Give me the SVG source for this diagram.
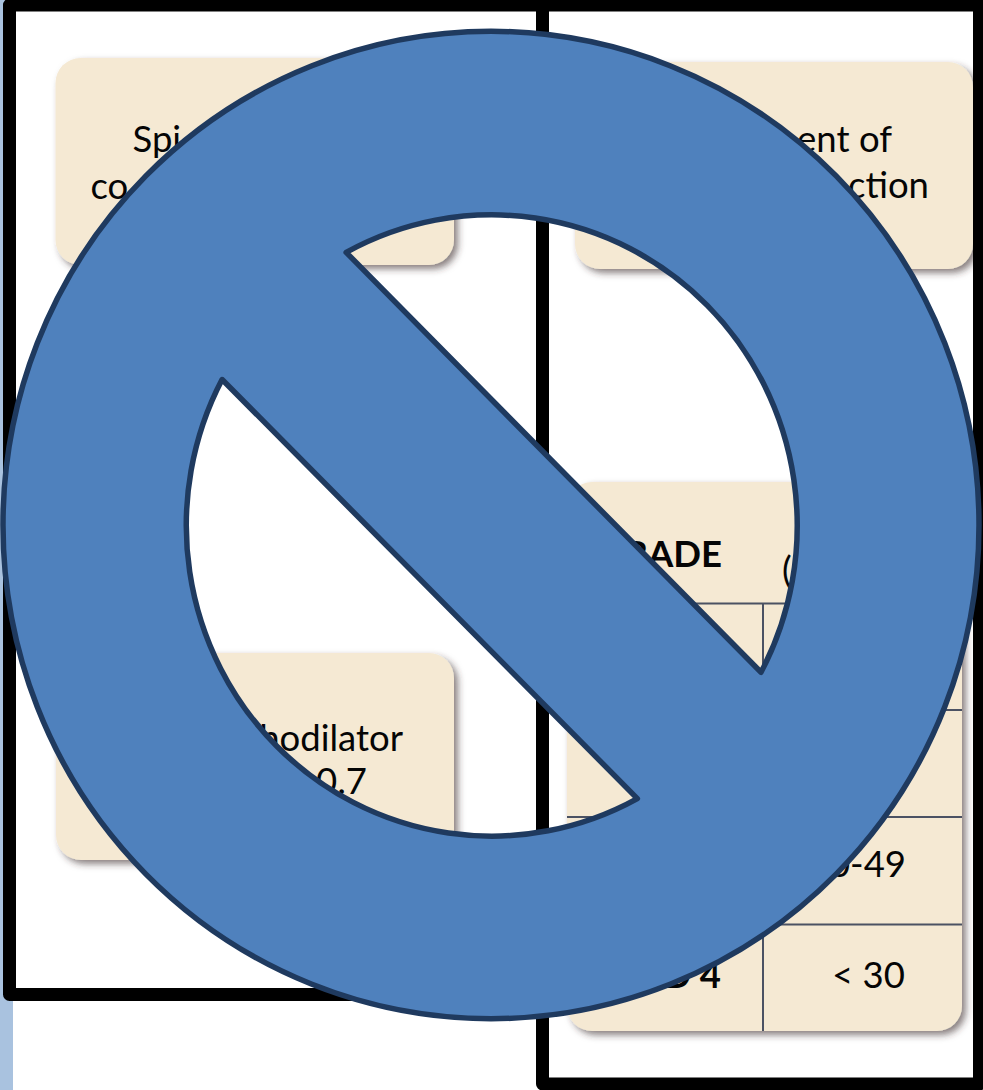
<svg xmlns="http://www.w3.org/2000/svg" width="983" height="1090" viewBox="0 0 983 1090">
<defs>
<style>
.box{fill:#f5e9d3;filter:url(#sh)}
.t{font-family:Lato,"Liberation Sans",sans-serif;font-size:36.500px;fill:#050505}
.b{font-weight:700}
.e{text-anchor:end}
.rule{stroke:#4b5263;stroke-width:2;fill:none}
.frame{fill:none;stroke:#000;stroke-width:13;stroke-linejoin:round}
</style>
<filter id="sh" x="-10%" y="-10%" width="125%" height="125%">
<feDropShadow dx="4" dy="4" stdDeviation="3.500" flood-color="#3a2c2c" flood-opacity="0.6"/>
</filter>
</defs>
<rect width="983" height="1090" fill="#fff"/>
<rect id="strip" x="0" y="0" width="13" height="1090" fill="#a9c2df"/>
<g id="box-spirometry">
<rect class="box" x="55.500" y="58" width="398.500" height="207" rx="25"/>
<text class="t" x="132.500" y="152">Spi</text>
<text class="t" x="90.500" y="199">co</text>
</g>
<g id="box-assessment">
<rect class="box" x="575" y="62" width="398" height="207" rx="25"/>
<text class="t e" x="892" y="152">ent of</text>
<text class="t e" x="929" y="198">ction</text>
</g>
<g id="box-bronchodilator">
<rect class="box" x="56" y="653" width="398" height="207" rx="25"/>
<text class="t e" x="403" y="751">hodilator</text>
<text class="t e" x="367" y="794">0.7</text>
</g>
<g id="box-grade">
<rect class="box" x="567" y="482" width="395" height="549" rx="25"/>
<path class="rule" d="M567 603.500H962M567 710H962M567 817H962M567 924.500H962M763 603V1031"/>
<text class="t b e" x="722" y="567">RADE</text>
<text class="t" x="782" y="583">(</text>
<text class="t e" x="906" y="877">0-49</text>
<text class="t b e" x="721" y="988">D 4</text>
<text class="t" x="832" y="988">&lt; 30</text>
</g>
<g id="frames">
<path class="frame" d="M9.500 5H542.500V994.500H9.500Z"/>
<path class="frame" d="M542.500 5H979.500V1084H542.500Z"/>
</g>
<g id="prohibition">
<path fill="#4f81bd" stroke="#1f3a5f" stroke-width="5.500" fill-rule="evenodd" stroke-linejoin="round" d="M3 525A488 493.500 0 1 1 979 525A488 493.500 0 1 1 3 525ZM346.150 252.400A305.500 310.700 0 0 1 761 672.300ZM637.350 798.600A305.500 310.700 0 0 1 222.080 379.500Z"/>
</g>
</svg>
